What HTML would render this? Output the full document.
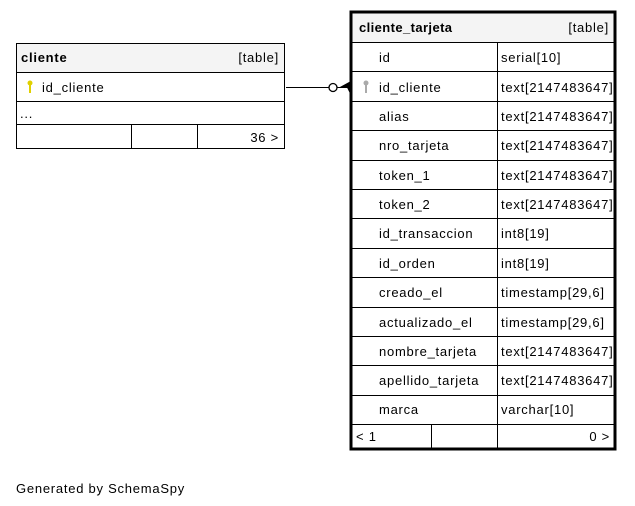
<!DOCTYPE html>
<html><head><meta charset="utf-8"><style>
html,body{margin:0;padding:0;background:#fff;}
svg{display:block;}
text{font-family:"Liberation Sans","DejaVu Sans",sans-serif;font-size:13px;fill:#000;letter-spacing:0.75px;}
.b{font-weight:bold;}
</style></head><body>
<svg width="635" height="506" viewBox="0 0 635 506" xmlns="http://www.w3.org/2000/svg">
<rect width="635" height="506" fill="#fff"/>
<!-- cliente -->
<rect x="16.5" y="43.5" width="268" height="105" fill="#fff" stroke="#000"/>
<rect x="17" y="44" width="267" height="28" fill="#f4f4f4"/>
<g stroke="#000" fill="none">
<line x1="16" y1="72.5" x2="285" y2="72.5"/>
<line x1="16" y1="101.5" x2="285" y2="101.5"/>
<line x1="16" y1="124.5" x2="285" y2="124.5"/>
<line x1="131.5" y1="124" x2="131.5" y2="149"/>
<line x1="197.5" y1="124" x2="197.5" y2="149"/>
</g>
<text x="21" y="62" class="b">cliente</text>
<text x="279" y="62" text-anchor="end">[table]</text>
<g fill="#e0d000"><circle cx="30" cy="83" r="2.5"/><rect x="29" y="84" width="2" height="9"/></g>
<text x="42" y="92">id_cliente</text>
<text x="20" y="118" font-size="11">...</text>
<text x="279" y="142" text-anchor="end">36 &gt;</text>
<!-- connector -->
<g stroke="#000" fill="none">
<line x1="286" y1="87.5" x2="329" y2="87.5"/>
<circle cx="333" cy="87.5" r="4" fill="#fff" stroke-width="1.3"/>
<line x1="337" y1="87.5" x2="350" y2="87.5"/>
</g>
<polygon points="339,87.5 350,81.5 350,93.5 347,87.5" fill="#000"/>
<!-- cliente_tarjeta -->
<rect x="351" y="12" width="264" height="437" fill="#fff" stroke="#000" stroke-width="3"/>
<rect x="352.5" y="13.5" width="261" height="28.5" fill="#f4f4f4"/>
<g stroke="#000" fill="none">
<line x1="352" y1="42.5" x2="614" y2="42.5"/>
<line x1="497.5" y1="42" x2="497.5" y2="448"/>
<line x1="431.5" y1="424" x2="431.5" y2="448"/>
<line x1="352" y1="71.5" x2="614" y2="71.5"/>
<line x1="352" y1="101.5" x2="614" y2="101.5"/>
<line x1="352" y1="130.5" x2="614" y2="130.5"/>
<line x1="352" y1="160.5" x2="614" y2="160.5"/>
<line x1="352" y1="189.5" x2="614" y2="189.5"/>
<line x1="352" y1="218.5" x2="614" y2="218.5"/>
<line x1="352" y1="248.5" x2="614" y2="248.5"/>
<line x1="352" y1="277.5" x2="614" y2="277.5"/>
<line x1="352" y1="307.5" x2="614" y2="307.5"/>
<line x1="352" y1="336.5" x2="614" y2="336.5"/>
<line x1="352" y1="365.5" x2="614" y2="365.5"/>
<line x1="352" y1="395.5" x2="614" y2="395.5"/>
<line x1="352" y1="424.5" x2="614" y2="424.5"/>
</g>
<text x="359" y="32" class="b" style="letter-spacing:0.4px">cliente_tarjeta</text>
<text x="609" y="32" text-anchor="end">[table]</text>
<g fill="#aaa"><circle cx="366" cy="83" r="2.5"/><rect x="365" y="84" width="2" height="9"/></g>
<g>
<text x="379" y="62">id</text><text x="501" y="62">serial[10]</text>
<text x="379" y="92">id_cliente</text><text x="501" y="92">text[2147483647]</text>
<text x="379" y="121">alias</text><text x="501" y="121">text[2147483647]</text>
<text x="379" y="150">nro_tarjeta</text><text x="501" y="150">text[2147483647]</text>
<text x="379" y="180">token_1</text><text x="501" y="180">text[2147483647]</text>
<text x="379" y="209">token_2</text><text x="501" y="209">text[2147483647]</text>
<text x="379" y="238">id_transaccion</text><text x="501" y="238">int8[19]</text>
<text x="379" y="268">id_orden</text><text x="501" y="268">int8[19]</text>
<text x="379" y="297">creado_el</text><text x="501" y="297">timestamp[29,6]</text>
<text x="379" y="327">actualizado_el</text><text x="501" y="327">timestamp[29,6]</text>
<text x="379" y="356">nombre_tarjeta</text><text x="501" y="356">text[2147483647]</text>
<text x="379" y="385">apellido_tarjeta</text><text x="501" y="385">text[2147483647]</text>
<text x="379" y="414">marca</text><text x="501" y="414">varchar[10]</text>
<text x="356" y="441">&lt; 1</text>
<text x="610" y="441" text-anchor="end">0 &gt;</text>
</g>
<text x="16" y="493">Generated by SchemaSpy</text>
</svg>
</body></html>
